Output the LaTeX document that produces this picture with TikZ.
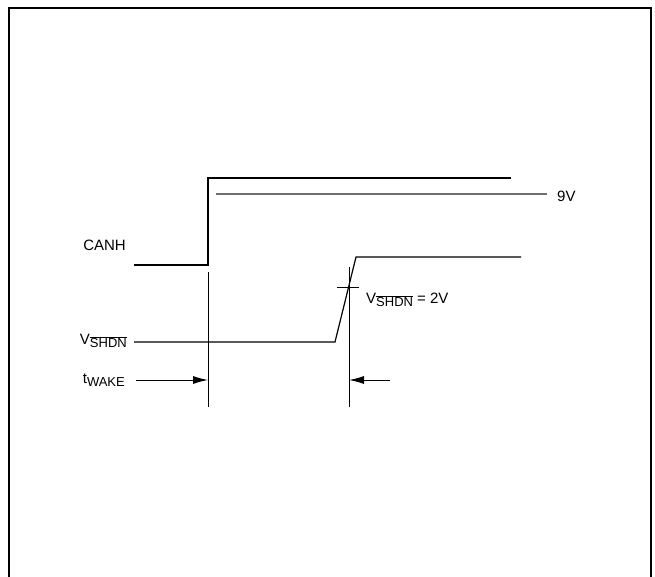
\documentclass[tikz,border=0pt]{standalone}
\usepackage{fontspec}
\setmainfont{Liberation Sans}
\usepackage{tikz}
\usetikzlibrary{arrows.meta,calc}
\definecolor{refgray}{RGB}{110,110,110}
\tikzstyle{label} = [inner sep=0pt, font=\fontsize{15}{15}\selectfont]
\tikzstyle{signal} = [draw, line width=1.2pt]
\tikzstyle{marker} = [draw, line width=1pt]
\tikzstyle{arrow} = [draw, line width=1pt, -{Latex[length=15pt,width=8pt]}]
\newcommand{\lowsub}[1]{\raisebox{-3.5pt}{\fontsize{13}{13}\selectfont #1}}
\newcommand{\notsig}[1]{$\overline{\hbox{#1}}$}

\begin{document}
\begin{tikzpicture}[x=1pt, y=-1pt]
    \useasboundingbox (0,0) rectangle (655,577);
    % frame, open at the bottom
    \draw[line width=2pt] (9,577) -- (9,8) -- (651,8) -- (651,577);

    % labels
    \node[label, anchor=east] (canh) at (126,245) {CANH};
    \node[label, anchor=east] (vshdn) at (127,341) {V\lowsub{\notsig{SHDN}}};
    \node[label, anchor=east] (twake) at (125,380) {t\lowsub{WAKE}};
    \node[label, anchor=west] (nine) at (557,196) {9V};
    \node[label, anchor=west] (thresh) at (366,300) {V\lowsub{\notsig{SHDN}} = 2V};

    % signal corners
    \coordinate (canhlow) at (134,265);
    \coordinate (canhedge) at (208,265);
    \coordinate (canhhigh) at (208,178);
    \coordinate (canhend) at (511,178);
    \coordinate (vlow) at (134,342);
    \coordinate (vrise) at (335,342);
    \coordinate (vtop) at (356,257);
    \coordinate (vend) at (521,257);
    \coordinate (mark1) at (208,272);
    \coordinate (mark2) at (349,267);
    \coordinate (back) at (390,380);

    % 9V level
    \draw[line width=1.2pt, refgray] (216,194) -- (547,194);

    % waveforms
    \path[signal] (canhlow) -- (canhedge) -- (canhhigh) -- (canhend);
    \path[signal] (vlow) -- (vrise) -- (vtop) -- (vend);

    % timing markers
    \path[marker] (mark1) -- (mark1 |- 0,407);
    \path[marker] (mark2) -- (mark2 |- 0,407);
    \path[marker] (337,287) -- (359,287);

    \path[arrow] ($(twake.east)+(11,0)$) -- (twake.east -| mark1);
    \path[arrow] (back) -- (back -| mark2);
\end{tikzpicture}
\end{document}
